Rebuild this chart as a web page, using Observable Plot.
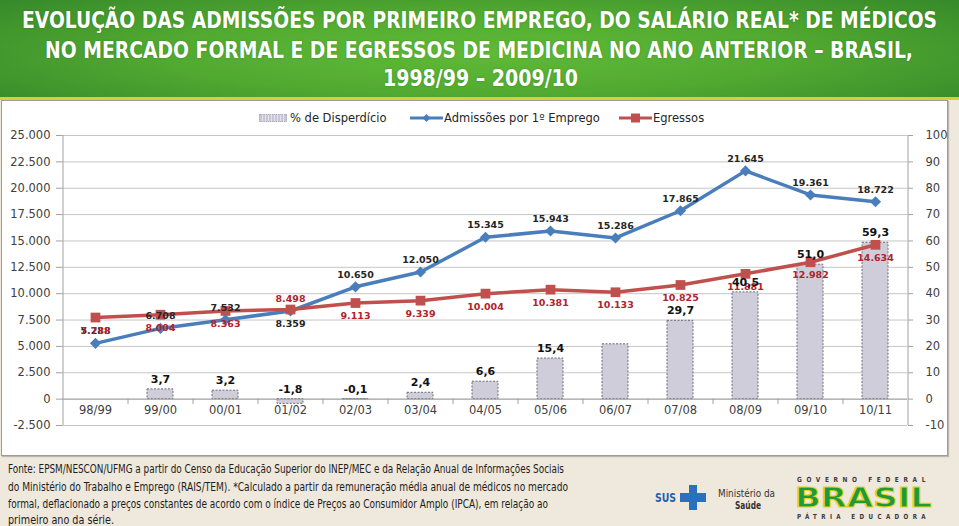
<!DOCTYPE html>
<html>
<head>
<meta charset="utf-8">
<script src="https://cdn.jsdelivr.net/npm/d3@7"></script>
<script src="https://cdn.jsdelivr.net/npm/@observablehq/plot@0.6"></script>
<style>
  html, body { margin: 0; padding: 0; }
  body { width: 959px; height: 526px; position: relative; overflow: hidden; background: #efe8dc; font-family: "DejaVu Sans", sans-serif; }
  #banner { position: absolute; left: 0; top: 0; width: 959px; height: 97px;
    background: radial-gradient(ellipse 70% 90% at 50% 55%, #5fba36 0%, #52ab31 45%, #338529 100%);
    border-bottom: 3px solid #dccd35; }
  .fit { position: absolute; white-space: nowrap; display: inline-block; transform-origin: 0 50%; }
  .tl { color: #fff; font-family: "DejaVu Sans", sans-serif; font-stretch: condensed; font-weight: bold; font-size: 23.5px; line-height: 26px; text-shadow: 0 0 2px rgba(0,60,0,0.35); }
  #panel { position: absolute; left: 1px; top: 100px; width: 945px; height: 354px; background: #fff; border: 1px solid #9c9c9c; box-shadow: 1px 1px 1px #bdb6aa; }
  #chart { position: absolute; left: 0; top: 0; }
  #legend { position: absolute; left: 0; top: 9px; width: 945px; height: 16px; font-size: 11.5px; color: #262626; }
  .li { position: absolute; top: 0; height: 16px; line-height: 16px; white-space: nowrap; }
  .sw { display: inline-block; vertical-align: middle; position: relative; }
  .ft { font-family: "DejaVu Sans", sans-serif; font-stretch: condensed; font-size: 12.3px; line-height: 14px; color: #1d1d1d; }
  .lg { font-family: "DejaVu Sans", sans-serif; font-stretch: condensed; line-height: 1; }
</style>
</head>
<body>
<div id="banner"></div>
<!-- title lines: data-x = left edge, data-w = target width, data-y = vertical centre -->
<span class="fit tl" data-x="22" data-w="915" data-y="20">EVOLUÇÃO DAS ADMISSÕES POR PRIMEIRO EMPREGO, DO SALÁRIO REAL* DE MÉDICOS</span>
<span class="fit tl" data-x="45" data-w="868" data-y="50">NO MERCADO FORMAL E DE EGRESSOS DE MEDICINA NO ANO ANTERIOR – BRASIL,</span>
<span class="fit tl" data-x="383" data-w="195" data-y="78">1998/99 – 2009/10</span>

<div id="panel">
  <div id="chart"></div>
  <div id="legend"></div>
</div>

<span class="fit ft" data-x="8" data-w="556" data-y="469">Fonte: EPSM/NESCON/UFMG a partir do Censo da Educação Superior do INEP/MEC e da Relação Anual de Informações Sociais</span>
<span class="fit ft" data-x="8" data-w="560" data-y="487">do Ministério do Trabalho e Emprego (RAIS/TEM). *Calculado a partir da remuneração média anual de médicos no mercado</span>
<span class="fit ft" data-x="8" data-w="540" data-y="504">formal, deflacionado a preços constantes de acordo com o índice de Preços ao Consumidor Amplo (IPCA), em relação ao</span>
<span class="fit ft" data-x="8" data-w="106" data-y="520">primeiro ano da série.</span>

<!-- logos (text-based) -->
<span class="fit lg" data-x="655" data-w="21" data-y="497" style="font-weight:bold;font-size:13px;color:#1d5fae;">SUS</span>
<div style="position:absolute;left:689px;top:485px;width:8px;height:25px;background:#2a6fc0;"></div>
<div style="position:absolute;left:680px;top:493px;width:26px;height:9px;background:#2a6fc0;"></div>
<span class="fit lg" data-x="718" data-w="57" data-y="493" style="font-size:11px;color:#333;">Ministério da</span>
<span class="fit lg" data-x="735" data-w="26" data-y="505" style="font-weight:bold;font-size:11px;color:#333;">Saúde</span>
<span class="fit lg" data-x="797" data-w="133" data-y="480" style="font-size:7px;font-weight:bold;letter-spacing:5px;color:#3a3a3a;">GOVERNO FEDERAL</span>
<span class="fit lg" data-x="795" data-w="137" data-y="498" style="font-weight:bold;font-size:26px;color:#1c9a3c;-webkit-text-stroke:1px #e8d21e;">BRASIL</span>
<span class="fit lg" data-x="797" data-w="133" data-y="517" style="font-size:7px;font-weight:bold;letter-spacing:5px;color:#3a3a3a;">PÁTRIA EDUCADORA</span>

<script>
// ---------------- data ----------------
const categories = ["98/99", "99/00", "00/01", "01/02", "02/03", "03/04", "04/05", "05/06", "06/07", "07/08", "08/09", "09/10", "10/11"];
const admissoes = [5288, 6708, 7532, 8359, 10650, 12050, 15345, 15943, 15286, 17865, 21645, 19361, 18722];
const egressos = [7738, 8004, 8363, 8498, 9113, 9339, 10004, 10381, 10133, 10825, 11881, 12982, 14634];
const desperdicio = [null, 3.7, 3.2, -1.8, -0.1, 2.4, 6.6, 15.4, 20.8, 29.7, 40.5, 51.0, 59.3];
const desperdicioLabelHidden = ["06/07"];
const leftTicks = [-2500, 0, 2500, 5000, 7500, 10000, 12500, 15000, 17500, 20000, 22500, 25000];
const rightTicks = [-10, 0, 10, 20, 30, 40, 50, 60, 70, 80, 90, 100];
const seriesNames = ["% de Disperdício", "Admissões por 1º Emprego", "Egressos"];

// ---------------- fit text lines ----------------
for (const el of document.querySelectorAll(".fit")) {
  const r = el.getBoundingClientRect();
  const s = (+el.dataset.w) / r.width;
  el.style.left = el.dataset.x + "px";
  el.style.top = (+el.dataset.y - r.height / 2) + "px";
  el.style.transform = `scaleX(${s})`;
}

// ---------------- setup ----------------
const W = 945, H = 354, ML = 60, MR = 40, MT = 34, MB = 30;
const step = (W - ML - MR) / categories.length;
const K = 25000 / 100; // right axis (%) -> left axis units
const BLUE = "#4a7ebb", RED = "#c0504d";
const ptBR = d3.formatLocale({decimal: ",", thousands: ".", grouping: [3], currency: ["R$ ", ""], minus: "-"});
const fmtInt = ptBR.format(",d");
const fmtPct = ptBR.format(".1f");

const rows = categories.map((c, i) => ({cat: c, adm: admissoes[i], egr: egressos[i], pct: desperdicio[i]}));
const bars = rows.filter(d => d.pct != null);
const admBelow = new Set(["01/02"]);
const egrAbove = new Set(["01/02"]);

const labelFont = {fontFamily: "DejaVu Sans", fontWeight: "bold", fontSize: 9.5};

const chart = Plot.plot({
  width: W, height: H,
  marginLeft: ML, marginRight: MR, marginTop: MT, marginBottom: MB,
  style: {fontFamily: "DejaVu Sans", background: "transparent", overflow: "visible"},
  x: {domain: categories, paddingInner: 0.6, paddingOuter: 0.3, axis: null},
  y: {domain: [-2500, 25000], axis: null},
  marks: [
    Plot.ruleY(leftTicks, {stroke: "#c6c6c6", strokeWidth: 1}),
    Plot.barY(bars, {x: "cat", y: d => d.pct * K, fill: "#cfcdd9", stroke: "#6c6c7c", strokeDasharray: "2,1.5", strokeWidth: 1}),
    Plot.ruleY([0], {stroke: "#a0a0a0", strokeWidth: 1}),
    Plot.ruleX([categories[0]], {y1: -2500, y2: 25000, dx: -step / 2, stroke: "#a0a0a0"}),
    Plot.ruleX([categories[categories.length - 1]], {y1: -2500, y2: 25000, dx: step / 2, stroke: "#a0a0a0"}),
    Plot.ruleX(categories.slice(1), {y1: 0, y2: -500, dx: -step / 2, stroke: "#a0a0a0"}),
    Plot.axisY({ticks: leftTicks, anchor: "left", label: null, tickFormat: fmtInt, tickSize: 6, tickPadding: 6, fontSize: 11.5, color: "#a0a0a0", fill: "#404040"}),
    Plot.axisY({ticks: rightTicks.map(v => v * K), anchor: "right", label: null, tickFormat: d => ptBR.format("d")(Math.round(d / K)), tickSize: 5, tickPadding: 13, textAnchor: "start", fontSize: 11.5, color: "#a0a0a0", fill: "#404040"}),
    Plot.axisX({anchor: "bottom", label: null, tickSize: 0, tickPadding: 0, dy: -20, fontSize: 11.5, fill: "#404040"}),
    Plot.line(rows, {x: "cat", y: "adm", stroke: BLUE, strokeWidth: 3.5}),
    Plot.line(rows, {x: "cat", y: "egr", stroke: RED, strokeWidth: 3.5}),
    Plot.dot(rows, {x: "cat", y: "adm", symbol: "diamond2", r: 5, fill: BLUE, stroke: "none"}),
    Plot.dot(rows, {x: "cat", y: "egr", symbol: "square", r: 5.5, fill: RED, stroke: "none"}),
    // labels
    Plot.text(rows.filter(d => !admBelow.has(d.cat)), {x: "cat", y: "adm", text: d => fmtInt(d.adm), dy: -12, fill: "#262626", ...labelFont}),
    Plot.text(rows.filter(d => admBelow.has(d.cat)), {x: "cat", y: "adm", text: d => fmtInt(d.adm), dy: 13, fill: "#262626", ...labelFont}),
    Plot.text(rows.filter(d => !egrAbove.has(d.cat)), {x: "cat", y: "egr", text: d => fmtInt(d.egr), dy: 13, fill: "#b0232e", ...labelFont}),
    Plot.text(rows.filter(d => egrAbove.has(d.cat)), {x: "cat", y: "egr", text: d => fmtInt(d.egr), dy: -11, fill: "#b0232e", ...labelFont}),
    Plot.text(bars.filter(d => !desperdicioLabelHidden.includes(d.cat)), {x: "cat", y: d => Math.max(d.pct, 0) * K, text: d => fmtPct(d.pct), dy: -10, fill: "#111", fontFamily: "DejaVu Sans", fontWeight: "bold", fontSize: 11})
  ]
});
document.getElementById("chart").appendChild(chart);

// legend
const legend = document.getElementById("legend");
const items = [
  {x: 257, name: seriesNames[0], html: `<span class="sw" style="width:28px;height:8px;background:repeating-linear-gradient(90deg,#c9c7d4 0 2px,#e4e2ea 2px 3px);border:1px dotted #b0aec0;box-sizing:border-box;margin-right:3px;top:-1px"></span>`},
  {x: 408, name: seriesNames[1], html: `<span class="sw" style="width:33px;height:12px;margin-right:1px;top:-1px"><svg width="33" height="12"><line x1="0" y1="6" x2="33" y2="6" stroke="${BLUE}" stroke-width="3"/><path d="M16.5 2 L20.5 6 L16.5 10 L12.5 6 Z" fill="${BLUE}"/></svg></span>`},
  {x: 617, name: seriesNames[2], html: `<span class="sw" style="width:33px;height:12px;margin-right:1px;top:-1px"><svg width="33" height="12"><line x1="0" y1="6" x2="33" y2="6" stroke="${RED}" stroke-width="3"/><rect x="12" y="1.5" width="9" height="9" fill="${RED}"/></svg></span>`}
];
for (const it of items) {
  const el = document.createElement("div");
  el.className = "li";
  el.style.left = it.x + "px";
  el.innerHTML = it.html + it.name;
  legend.appendChild(el);
}
</script>
</body>
</html>
